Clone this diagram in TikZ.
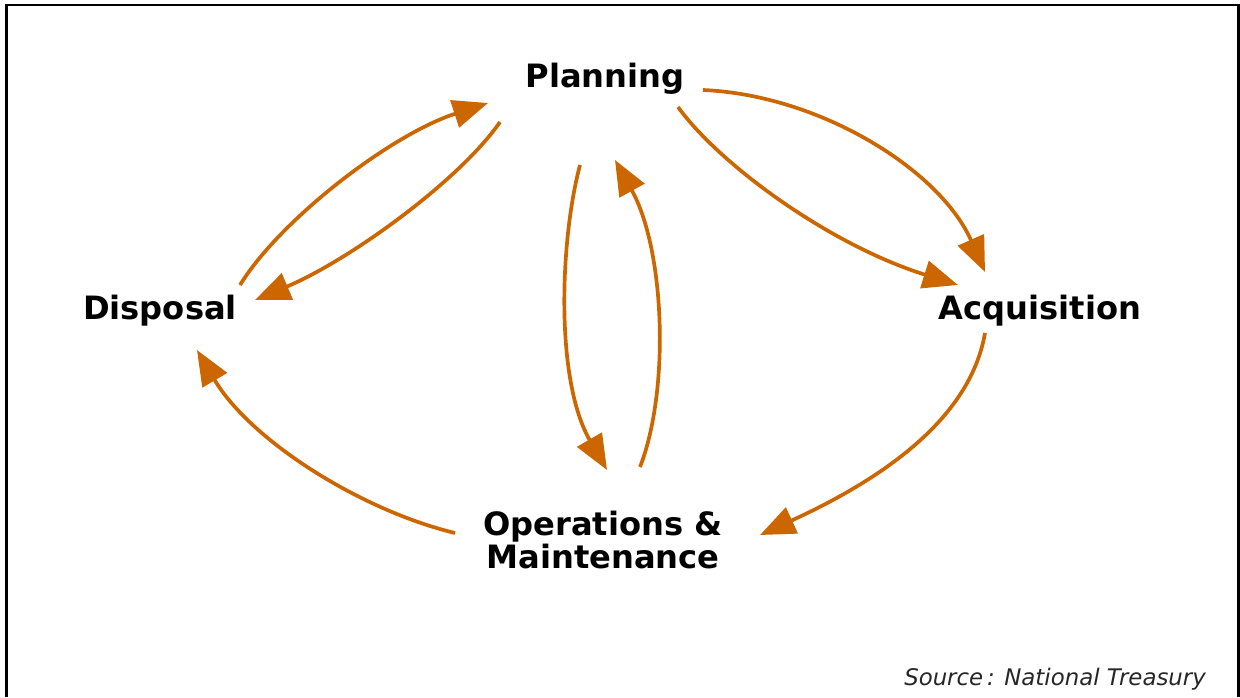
\documentclass[tikz,border=0pt]{standalone}
\usepackage{fontspec}
\setmainfont{DejaVu Sans}
\usetikzlibrary{arrows.meta}
\definecolor{arrorange}{RGB}{204,102,0}
\begin{document}
\begin{tikzpicture}[x=0.02cm,y=-0.02cm,
  lbl/.style={font=\fontsize{18.3}{17.6}\selectfont\bfseries, text=black, inner sep=0pt, align=center},
  arr/.style={draw=arrorange, line width=2.1pt, -{Triangle[length=20pt,width=16pt]}},
  frame/.style={draw=black, line width=1.6pt}]
\useasboundingbox (0,0) rectangle (1240,697);
\draw[frame] (6.5,697) -- (6.5,5) -- (1238.5,5) -- (1238.5,697);

\node[lbl] (plan) at (605,79) {Planning};
\node[lbl] (dis) at (160,311) {Disposal};
\node[lbl] (acq) at (1040,311) {Acquisition};
\node[lbl] (ops) at (603,540) {Operations \&\\Maintenance};
\node[font=\fontsize{13}{15}\selectfont\itshape, text=black!85, inner sep=0pt] (src) at (1055,679) {Source\,: National Treasury};

% endpoints
\coordinate (d1) at (240,285);  \coordinate (p1) at (488,103);
\coordinate (p2) at (500,122);  \coordinate (d2) at (255,300);
\coordinate (p3) at (580,165);  \coordinate (o3) at (607,470);
\coordinate (o4) at (640,467);  \coordinate (p4) at (615,160);
\coordinate (p5) at (703,90);   \coordinate (a5) at (985,272);
\coordinate (p6) at (678,107);  \coordinate (a6) at (958,285);
\coordinate (a7) at (985,333);  \coordinate (o7) at (760,535);
\coordinate (o8) at (455,533);  \coordinate (d8) at (197,350);

\draw[arr] (d1) .. controls (280,220) and (390,135) .. (p1);
\draw[arr] (p2) .. controls (460,180) and (350,260) .. (d2);
\draw[arr] (p3) .. controls (560,240) and (555,380) .. (o3);
\draw[arr] (o4) .. controls (670,390) and (665,250) .. (p4);
\draw[arr] (p5) .. controls (820,95) and (940,170) .. (a5);
\draw[arr] (p6) .. controls (720,165) and (830,245) .. (a6);
\draw[arr] (a7) .. controls (970,420) and (880,480) .. (o7);
\draw[arr] (o8) .. controls (360,510) and (250,440) .. (d8);
\end{tikzpicture}
\end{document}
